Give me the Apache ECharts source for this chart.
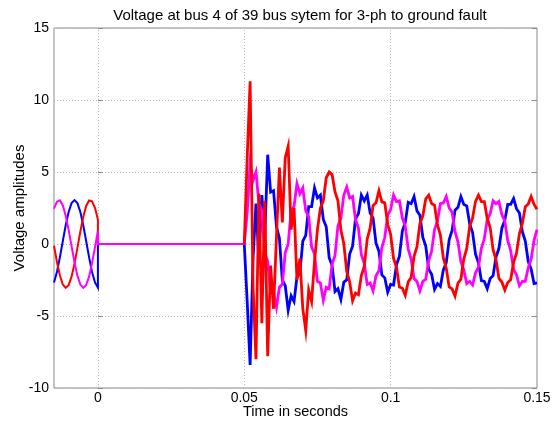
<!DOCTYPE html>
<html><head><meta charset="utf-8">
<script src="https://cdn.jsdelivr.net/npm/echarts@6/dist/echarts.min.js"></script>
<style>html,body{margin:0;padding:0;background:#fff}#c{width:557px;height:424px}</style>
</head><body><div id="c"></div>
<script>
// Pre-fault samples: t = -0.015 .. 0 s, step 0.001
const preTime = [-0.015,-0.014,-0.013,-0.012,-0.011,-0.010,-0.009,-0.008,-0.007,-0.006,-0.005,-0.004,-0.003,-0.002,-0.001,0];
const preBlue = [-2.67,-1.94,-0.94,0.19,1.30,2.22,2.84,3.05,2.84,2.22,1.30,0.19,-0.94,-1.94,-2.67,-3.03];
const preRed = [-0.12,-1.23,-2.17,-2.81,-3.05,-2.86,-2.27,-1.37,-0.27,0.87,1.89,2.64,3.02,2.97,2.51,1.70];
const preMagenta = [2.45,2.94,3.03,2.69,1.97,0.98,-0.15,-1.27,-2.20,-2.82,-3.05,-2.85,-2.25,-1.33,-0.23,0.91];
// Fault period (all phases at zero)
const faultTime = [0, 0.05];
const faultValue = [0, 0];
// Post-fault samples: t = 0.050 .. 0.150 s, step 0.001
const postStart = 0.05, postStep = 0.001;
const postBlue = [0,-4.0,-8.4,-1.0,2.8,-1.2,3.4,0.5,6.2,3.6,3.7,1.2,0.4,-2.5,-2.9,-4.6,-3.6,-4.0,-2.3,-2.0,0.2,0.6,2.6,2.6,3.9,3.2,3.4,1.7,1.2,-0.95,-1.5,-3.3,-3.1,-3.85,-2.65,-2.5,-0.7,-0.15,1.75,2.1,3.4,3.0,3.4,2.15,1.8,0.05,-0.5,-2.15,-2.35,-3.35,-2.8,-2.85,-1.45,-0.85,0.9,1.5,2.9,2.8,3.3,2.3,2.0,0.45,-0.15,-1.75,-2.1,-3.15,-2.75,-2.95,-1.8,-1.3,0.3,0.95,2.35,2.55,3.3,2.75,2.65,1.4,0.8,-0.7,-1.3,-2.55,-2.6,-3.1,-2.4,-2.2,-0.9,-0.3,1.1,1.65,2.75,2.75,3.15,2.45,2.15,0.85,0.2,-1.2,-1.75,-2.75,-2.7];
const postRed = [0,6.0,11.3,-3.0,-8.0,3.5,-5.5,3.0,-7.8,-1.5,-4.5,0.5,5.3,1.5,6.0,6.8,1.0,2.5,-2.5,-1.0,-4.5,-6.0,-3.2,-4.0,-1.2,1.0,2.5,3.0,4.6,5.0,4.82,3.62,3.00,0.98,0.03,-1.91,-2.62,-3.94,-3.41,-3.53,-2.19,-1.55,0.35,1.12,2.68,2.86,3.70,2.92,2.86,1.35,0.68,-1.00,-1.62,-2.98,-3.07,-3.56,-2.63,-2.33,-0.85,-0.18,1.42,1.96,3.14,3.39,2.81,2.69,1.33,0.63,-0.97,-1.68,-2.98,-3.12,-3.62,-2.71,-2.45,-1.03,-0.31,1.22,1.81,2.96,3.40,2.95,2.94,1.77,1.15,-0.39,-1.08,-2.39,-2.64,-3.20,-2.67,-2.49,-1.28,-0.63,0.73,1.43,2.59,2.77,3.30,2.75,2.42];
const postMagenta = [0,2.2,5.6,4.4,5.0,2.8,2.3,-0.6,-1.2,-3.4,-3.4,-4.4,-3.0,-2.8,-0.6,0.0,2.3,2.6,4.2,3.5,3.9,2.3,1.9,-0.2,-0.7,-2.6,-2.7,-3.9,-3.0,-3.1,-1.4,-0.8,1.25,1.8,3.4,3.95,3.2,3.3,1.7,1.1,-0.75,-1.35,-2.8,-2.7,-3.25,-2.2,-1.85,-0.25,0.45,2.0,2.4,3.4,2.95,3.0,1.8,1.25,-0.35,-1.05,-2.4,-2.6,-3.25,-2.6,-2.45,-1.15,-0.5,1.0,1.6,2.8,2.85,3.3,2.5,2.2,0.85,0.15,-1.25,-1.8,-2.75,-2.6,-2.85,-2.0,-1.6,-0.3,0.35,1.7,2.1,3.0,2.8,2.95,2.05,1.6,0.25,-0.45,-1.75,-2.15,-2.9,-2.6,-2.6,-1.65,-1.05,0.25,1.0];
// Axis ticks
const xTickValues = [0, 0.05, 0.1, 0.15];
const xTickLabels = ['0', '0.05', '0.1', '0.15'];

const BLUE = '#0000ff', RED = '#ff0000', MAGENTA = '#ff00ff';
function preData(v) {
  const d = preTime.map((t, i) => [t, v[i]]);
  faultTime.forEach((t, i) => d.push([t, faultValue[i]]));
  return d;
}
function postData(v) {
  return v.map((y, i) => [+(postStart + i * postStep).toFixed(4), y]);
}
function line(name, data, color, z, w) {
  return { name, type: 'line', data, showSymbol: false, symbol: 'none', z,
    lineStyle: { color, width: w || 2, join: 'miter' }, itemStyle: { color }, animation: false };
}
const chart = echarts.init(document.getElementById('c'), null, { renderer: 'canvas' });
const font = 'Liberation Sans, Arial, sans-serif';
const gridColor = '#b8b8b8';
chart.setOption({
  animation: false,
  backgroundColor: '#fff',
  title: { text: 'Voltage at bus 4 of 39 bus sytem for 3-ph to ground fault', left: 295, top: 3, textAlign: 'center',
    textStyle: { fontFamily: font, fontSize: 15, fontWeight: 'normal', color: '#000' } },
  grid: { left: 54, right: 20, top: 28, bottom: 36, show: true, borderColor: '#8a8a8a', borderWidth: 1,
    backgroundColor: '#fff', containLabel: false, outerBoundsMode: 'none' },
  xAxis: [{
    type: 'value', min: -0.015, max: 0.15, position: 'bottom',
    name: 'Time in seconds', nameLocation: 'middle', nameGap: 16, nameMoveOverlap: false,
    nameTextStyle: { fontFamily: font, fontSize: 14.5, color: '#000' },
    axisLine: { show: false },
    axisTick: { show: true, inside: true, length: 5, customValues: xTickValues, lineStyle: { color: '#8a8a8a' } },
    axisLabel: { customValues: xTickValues, formatter: v => xTickLabels[xTickValues.indexOf(v)] ?? '', fontFamily: font, fontSize: 14, color: '#000', margin: 3 },
    splitLine: { show: false }
  }],
  yAxis: [{
    type: 'value', min: -10, max: 15, interval: 5,
    name: 'Voltage amplitudes', nameLocation: 'middle', nameGap: 27, nameRotate: 90, nameMoveOverlap: false,
    nameTextStyle: { fontFamily: font, fontSize: 15, color: '#000' },
    axisLine: { show: false },
    axisTick: { show: true, inside: true, length: 5, lineStyle: { color: '#8a8a8a' } },
    axisLabel: { fontFamily: font, fontSize: 14, color: '#000', margin: 5 },
    splitLine: { show: true, lineStyle: { type: [1, 2], color: gridColor } }
  }, {
    type: 'value', min: -10, max: 15, interval: 5, position: 'right',
    axisLine: { show: false }, axisLabel: { show: false },
    axisTick: { show: true, inside: true, length: 5, lineStyle: { color: '#8a8a8a' } },
    splitLine: { show: false }
  }],
  series: [
    Object.assign(line('grid', [], '#000', 0), {
      markLine: { silent: true, symbol: 'none', label: { show: false }, z: 0,
        lineStyle: { type: [1, 2], color: gridColor, width: 1 },
        data: xTickValues.filter(v => v > -0.015 && v < 0.15).map(v => ({ xAxis: v })) }
    }),
    line('blue-pre', preData(preBlue), BLUE, 2, 2),
    line('red-pre', preData(preRed), RED, 3, 2),
    line('magenta-pre', preData(preMagenta), MAGENTA, 4, 2),
    line('blue-post', postData(postBlue), BLUE, 2, 2.8),
    line('magenta-post', postData(postMagenta), MAGENTA, 3, 2.8),
    line('red-post', postData(postRed), RED, 4, 2.8)
  ]
});
</script></body></html>
